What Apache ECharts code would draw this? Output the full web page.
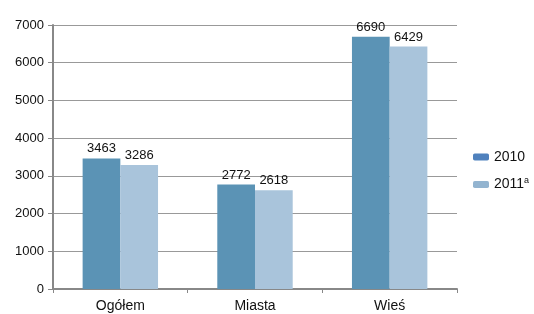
<!DOCTYPE html>
<html>
<head>
<meta charset="utf-8">
<script src="https://cdn.jsdelivr.net/npm/echarts@6/dist/echarts.min.js"></script>
<style>
  html, body { margin: 0; padding: 0; background: #fff; }
  #chart { width: 534px; height: 314px; }
</style>
</head>
<body>
<div id="chart"></div>
<script>
// dane
const categories = ['Ogółem', 'Miasta', 'Wieś']
const values2010 = [3463, 2772, 6690]
const values2011 = [3286, 2618, 6429]
const yTicks = [0, 1000, 2000, 3000, 4000, 5000, 6000, 7000]

;(function () {
  let myChart = echarts.init(document.getElementById('chart'))
  let labelStyle = {
    show: true,
    position: 'top',
    distance: 3,
    color: '#111',
    fontSize: 13,
    fontFamily: 'Liberation Sans, Arial, sans-serif'
  }
  let option = {
    animation: false,
    grid: {
      left: 53,
      right: 77,
      top: 25,
      bottom: 25
    },
    legend: {
      orient: 'vertical',
      left: 468,
      top: 145,
      itemWidth: 16,
      itemHeight: 7,
      itemGap: 12,
      textStyle: {
        color: '#111',
        fontSize: 14,
        fontFamily: 'Liberation Sans, Arial, sans-serif',
        rich: {
          sup: { fontSize: 9, verticalAlign: 'top', padding: [0, 0, 8, 0], color: '#111' }
        }
      },
      formatter: function (name) {
        return name === '2011' ? '2011{sup|a}' : name
      },
      data: [
        { name: '2010', itemStyle: { color: '#4f81bd' } },
        { name: '2011', itemStyle: { color: '#93b4d0' } }
      ]
    },
    xAxis: {
      type: 'category',
      data: categories,
      axisLine: { lineStyle: { color: '#888', width: 2 } },
      axisTick: { show: true, length: 4, lineStyle: { color: '#888' } },
      axisLabel: {
        color: '#111',
        fontSize: 14,
        margin: 10,
        fontFamily: 'Liberation Sans, Arial, sans-serif'
      }
    },
    yAxis: {
      type: 'value',
      min: yTicks[0],
      max: yTicks[yTicks.length - 1],
      interval: 1000,
      axisLine: { show: true, lineStyle: { color: '#888', width: 2 } },
      axisTick: { show: true, length: 5, lineStyle: { color: '#888' } },
      splitLine: { lineStyle: { color: '#999' } },
      axisLabel: {
        color: '#111',
        fontSize: 13,
        margin: 9,
        formatter: function (v) { return String(v) },
        fontFamily: 'Liberation Sans, Arial, sans-serif'
      }
    },
    series: [
      {
        name: '2010',
        type: 'bar',
        data: values2010,
        barGap: '0%',
        barCategoryGap: '44%',
        itemStyle: { color: '#5b93b5' },
        label: labelStyle
      },
      {
        name: '2011',
        type: 'bar',
        data: values2011,
        itemStyle: { color: '#a9c4db' },
        label: labelStyle
      }
    ]
  }
  myChart.setOption(option)
  window.addEventListener('resize', function () {
    myChart.resize()
  })
})();
</script>
</body>
</html>
